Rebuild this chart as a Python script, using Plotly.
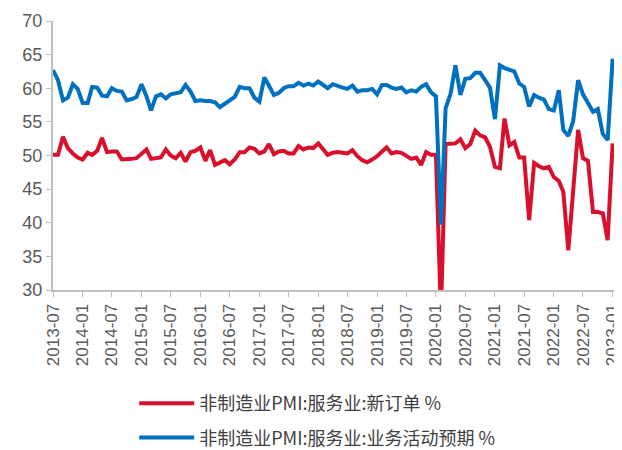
import pandas as pd
import plotly.graph_objects as go

# monthly, 2013-07 .. 2023-01
start_month = "2013-07-01"
end_month = "2023-01-01"

new_orders = [
    50.1, 50.1, 52.8, 51.1, 50.3, 49.7, 49.4, 50.4, 50.1, 50.7,
    52.6, 50.5, 50.6, 50.6, 49.4, 49.4, 49.5, 49.6, 50.2, 50.9,
    49.5, 49.6, 49.7, 50.9, 50.0, 49.6, 50.4, 49.1, 50.5, 50.7,
    51.2, 49.2, 50.8, 48.6, 49.0, 49.3, 48.7, 49.4, 50.5, 50.5,
    51.2, 51.0, 50.3, 50.6, 51.7, 50.2, 50.6, 50.7, 50.3, 50.3,
    51.4, 50.9, 51.2, 51.1, 51.8, 50.8, 50.1, 50.4, 50.5, 50.4,
    50.3, 50.8, 49.9, 49.3, 49.0, 49.4, 49.9, 50.6, 51.2, 50.3,
    50.5, 50.4, 49.9, 49.5, 49.7, 48.6, 50.5, 50.1, 50.1, 26.5,
    51.7, 51.8, 51.8, 52.4, 51.1, 51.7, 53.7, 53.0, 52.7, 51.3,
    48.3, 48.1, 55.5, 51.5, 52.0, 49.7, 49.7, 40.4, 48.9, 48.4,
    48.1, 48.3, 46.8, 46.2, 44.6, 35.9, 44.5, 53.8, 49.6, 49.2,
    41.6, 41.6, 41.4, 37.4, 51.8,
]

expectations = [
    62.7, 61.2, 58.2, 58.6, 60.6, 59.9, 57.8, 57.8, 60.2, 60.1,
    58.9, 58.8, 60.0, 59.6, 59.5, 58.2, 58.4, 58.7, 60.6, 58.8,
    56.7, 58.8, 59.1, 58.5, 59.1, 59.2, 59.4, 60.5, 59.5, 58.1,
    58.2, 58.1, 58.1, 57.9, 57.2, 57.7, 58.2, 58.7, 60.2, 60.0,
    60.0, 58.6, 58.0, 61.6, 60.4, 59.0, 59.3, 60.0, 60.3, 60.3,
    60.8, 60.4, 60.7, 60.4, 61.0, 60.5, 60.0, 60.6, 60.3, 60.1,
    59.9, 60.4, 59.5, 59.7, 59.7, 59.9, 59.1, 60.5, 60.5, 60.1,
    59.9, 60.1, 59.4, 59.7, 59.5, 60.2, 60.6, 59.4, 58.8, 39.7,
    57.0, 59.2, 63.4, 59.0, 61.4, 61.5, 62.3, 62.3, 61.2, 60.1,
    55.4, 63.4, 63.0, 62.8, 62.5, 60.7, 60.2, 57.3, 59.0, 58.6,
    58.3, 56.9, 56.7, 59.7, 53.8, 52.9, 55.1, 61.2, 59.1, 57.8,
    56.5, 56.9, 53.2, 52.3, 64.4,
]

names = ['非制造业PMI:服务业:新订单 %', '非制造业PMI:服务业:业务活动预期 %']
colors = ['#D9102B', '#0070C0']

months = pd.date_range(start_month, end_month, freq="MS").strftime("%Y-%m-%d").tolist()

fig = go.Figure()

for j, vals in enumerate([new_orders, expectations]):
    fig.add_trace(
        go.Scatter(
            x=months, y=vals,
            mode='lines',
            name=names[j],
            legendgroup=str(j),
            line=dict(color=colors[j], width=4)
        )
    )

axis_col = '#BFBFBF'

fig.update_xaxes(
    range=[start_month, "2023-01-28"],
    tick0=start_month, dtick='M6', tickformat='%Y-%m',
    tickangle=-90,
    ticklabeloverflow='allow',
    automargin=False,
    showgrid=False, zeroline=False,
    showline=True, linecolor=axis_col, linewidth=2,
    ticks='outside', ticklen=5, tickcolor=axis_col, tickwidth=1,
    tickfont=dict(family='Liberation Sans, Arial, sans-serif', size=17, color='#595959')
)
fig.update_yaxes(
    range=[30, 70], dtick=5,
    automargin=False,
    showgrid=False, zeroline=False,
    showline=True, linecolor=axis_col, linewidth=2,
    ticks='outside', ticklen=5, tickcolor=axis_col, tickwidth=1,
    tickfont=dict(family='Liberation Sans, Arial, sans-serif', size=18, color='#595959')
)

# page body has an 8px margin, so the figure is sized/offset to suit
fig.update_layout(
    width=630, height=480,
    autosize=False,
    margin=dict(l=45, r=21, t=13, b=198),
    plot_bgcolor='white', paper_bgcolor='white',
    legend=dict(
        x=0.144, y=-0.353, xanchor='left', yanchor='top',
        orientation='v',
        font=dict(family='Noto Sans CJK SC, sans-serif', size=18, color='#404040'),
        itemwidth=55,
        tracegroupgap=8,
        bgcolor='rgba(0,0,0,0)'
    ),
    showlegend=True
)

fig.write_html("out.html")
